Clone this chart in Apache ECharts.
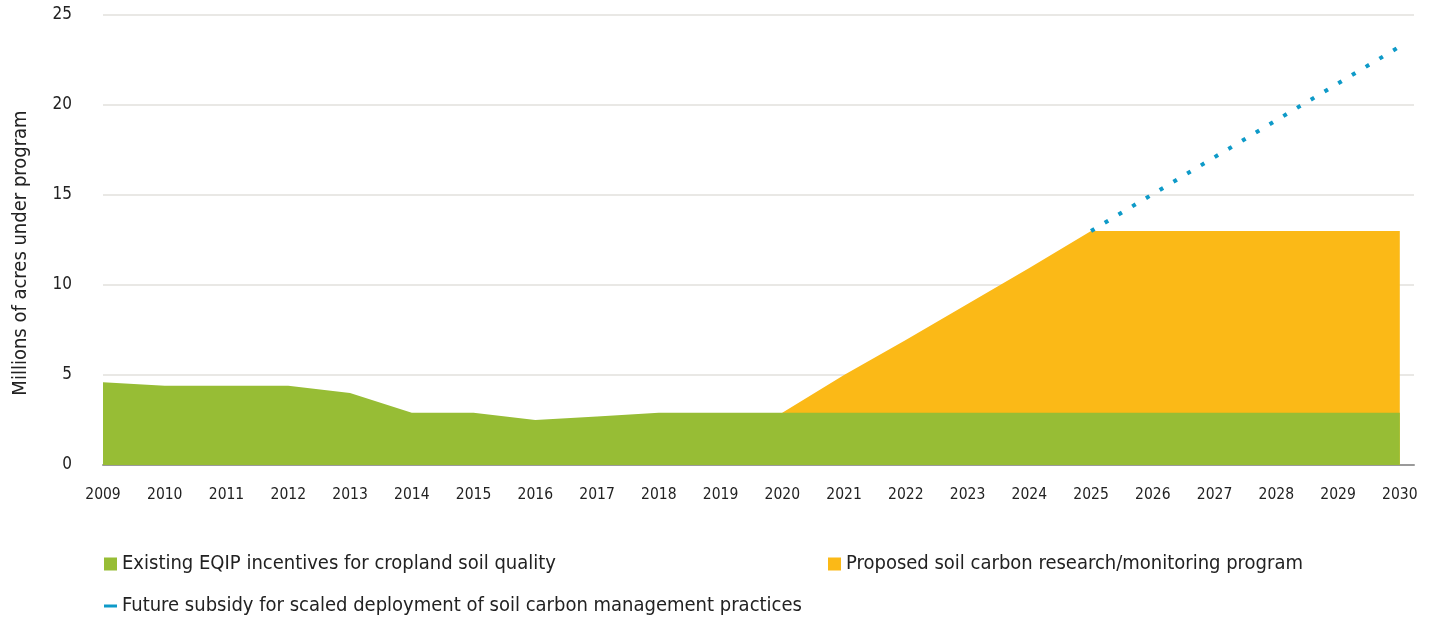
<!DOCTYPE html>
<html>
<head>
<meta charset="utf-8">
<script src="https://cdn.jsdelivr.net/npm/echarts@6/dist/echarts.min.js"></script>
<style>
  html, body { margin: 0; padding: 0; background: #fff; }
  #main { width: 1430px; height: 617px; }
</style>
</head>
<body>
<div id="main"></div>
<script>
// years on the x axis
const years = [2009, 2010, 2011, 2012, 2013, 2014, 2015, 2016, 2017, 2018, 2019,
  2020, 2021, 2022, 2023, 2024, 2025, 2026, 2027, 2028, 2029, 2030]
// existing EQIP (millions of acres)
const eqip = [4.6, 4.4, 4.4, 4.4, 4.0, 2.9, 2.9, 2.5, 2.7, 2.9, 2.9,
  2.9, 2.9, 2.9, 2.9, 2.9, 2.9, 2.9, 2.9, 2.9, 2.9, 2.9]
// top edge of proposed program (EQIP + proposed), null = not present
const proposedTotal = [null, null, null, null, null, null, null, null, null, null, null,
  2.9, 5.0, 6.95, 8.95, 10.95, 13.0, 13.0, 13.0, 13.0, 13.0, 13.0]
// future subsidy total, dotted
const future = [null, null, null, null, null, null, null, null, null, null, null,
  null, null, null, null, null, 13.0, 15.05, 17.1, 19.15, 21.2, 23.25]

const names = [
  'Existing EQIP incentives for cropland soil quality',
  'Proposed soil carbon research/monitoring program',
  'Future subsidy for scaled deployment of soil carbon management practices'
]

const font = '"DejaVu Sans Condensed", "Liberation Sans Narrow", sans-serif'
const pair = (arr) => years.map((y, i) => [y, arr[i]])
const legendText = { fontSize: 20, color: '#222', fontFamily: font }

var chart = echarts.init(document.getElementById('main'))
var option = {
  animation: false,
  textStyle: { fontFamily: font },
  grid: { left: 103, right: 16, top: 15, bottom: 152 },
  legend: [
    {
      left: 99, top: 549, itemWidth: 13, itemHeight: 13, icon: 'rect',
      textStyle: legendText, data: [names[0]]
    },
    {
      left: 823, top: 549, itemWidth: 13, itemHeight: 13, icon: 'rect',
      textStyle: legendText, data: [names[1]]
    },
    {
      left: 99, top: 591, itemWidth: 13, itemHeight: 3, icon: 'rect',
      textStyle: legendText,
      data: [{ name: names[2], itemStyle: { color: '#0e9ac8' } }]
    }
  ],
  graphic: [{
    type: 'text', x: 21, y: 253, rotation: Math.PI / 2,
    style: {
      text: 'Millions of acres under program', fontSize: 20, fill: '#222',
      fontFamily: font, align: 'center', verticalAlign: 'middle'
    }
  }],
  xAxis: {
    type: 'value', min: 2009, max: 2030.23, interval: 1,
    axisLine: { show: true, lineStyle: { color: '#9a9a9a', width: 2 } },
    axisTick: { show: false },
    splitLine: { show: false },
    axisLabel: {
      fontSize: 15.5, color: '#222', margin: 22,
      formatter: (v) => Number.isInteger(v) ? String(v) : ''
    }
  },
  yAxis: {
    type: 'value', min: 0, max: 25, interval: 5,
    axisLine: { show: false },
    axisTick: { show: false },
    splitLine: { lineStyle: { color: '#e2e1dc', width: 1.5 } },
    axisLabel: { fontSize: 17, color: '#222', margin: 31, padding: [6, 0, 0, 0] }
  },
  series: [
    {
      name: names[1], type: 'line', data: pair(proposedTotal),
      symbol: 'none', lineStyle: { width: 0 },
      itemStyle: { color: '#fbb917' },
      areaStyle: { color: '#fbb917', opacity: 1 }, z: 2
    },
    {
      name: names[0], type: 'line', data: pair(eqip),
      symbol: 'none', lineStyle: { width: 0 },
      itemStyle: { color: '#97bd35' },
      areaStyle: { color: '#97bd35', opacity: 1 }, z: 3
    },
    {
      name: names[2], type: 'line', data: pair(future),
      symbol: 'none',
      itemStyle: { color: '#0e9ac8' },
      lineStyle: { color: '#0e9ac8', width: 4, type: [4, 12] }, z: 4
    }
  ]
}
chart.setOption(option)
</script>
</body>
</html>
